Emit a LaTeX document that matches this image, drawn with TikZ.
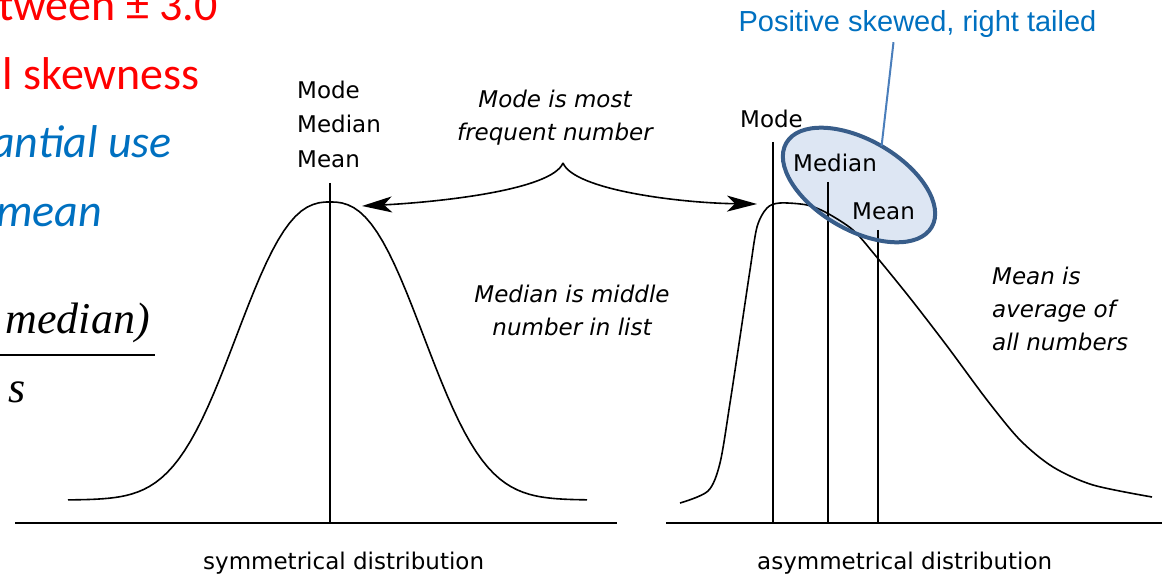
\documentclass[tikz,border=0pt]{standalone}
\usepackage{fontspec}
\usepackage{tikz}
\usetikzlibrary{shapes.geometric,arrows.meta,calc}
\newfontfamily\labelfont{DejaVu Sans}
\newfontfamily\slidefont{Carlito}
\newfontfamily\formulafont{Liberation Serif}
\newfontfamily\calloutfont{Liberation Sans}
\definecolor{slidered}{HTML}{FF0000}
\definecolor{slideblue}{HTML}{0070C0}
\definecolor{calloutcol}{HTML}{4A7EBB}
\definecolor{ringcol}{HTML}{385D8A}
\definecolor{ringfill}{HTML}{DDE6F3}

\begin{document}
\begin{tikzpicture}[x=1pt, y=-1pt,
  lbl/.style={inner sep=0pt, font=\labelfont\fontsize{23}{34.5}\selectfont},
  note/.style={inner sep=0pt, align=center, font=\labelfont\itshape\fontsize{23}{33}\selectfont},
  slide/.style={inner sep=0pt, anchor=base east, font=\slidefont\fontsize{46}{50}\selectfont},
  slideit/.style={slide, font=\slidefont\itshape\fontsize{46}{50}\selectfont},
  formula/.style={inner sep=0pt, font=\formulafont\itshape\fontsize{44}{48}\selectfont},
  curve/.style={line width=1.6pt, line join=round},
  stem/.style={line width=2pt},
  axis/.style={line width=2.5pt},
  pointer/.style={line width=1.6pt, -{Stealth[length=30pt, width=16pt, inset=8pt]}},
  ring/.style={ellipse, fill=ringfill, minimum width=168pt, minimum height=90pt,
               rotate=-30, inner sep=0pt},
  ringedge/.style={draw=ringcol, line width=4pt}
]
  \useasboundingbox (0,0) rectangle (1162,577);
  \clip (0,0) rectangle (1162,577);

  \node[slide, text=slidered] (range) at (218,21) {tween ± 3.0};
  \node[slide, text=slidered] (skewness) at (200,90) {l skewness};
  \node[slideit, text=slideblue] (usage) at (172,158) {antial use};
  \node[slideit, text=slideblue] (mean) at (102,227) {mean};
  \node[formula, anchor=base east] (numer) at (150,334) {median)};
  \node[formula, anchor=base] (denom) at (17.5,402) {s};
  \draw[line width=2pt] (-5,355) -- (155,355);

  \node[ring] (skew) at (859,185) {};

  \draw[axis] (15,523) -- (617,523);
  \draw[axis] (666,523) -- (1162,523);

  \draw[curve] plot[domain=68:587, samples=90]
    (\x, {500-298*exp(-pow((abs(\x-330)+0.01)/115,2.5))});
  \draw[curve] plot[smooth, tension=0.5] coordinates {(680,503) (708,491) (720,463) (730,403)
    (740,337) (750,270) (757,227) (767,208) (780,203) (807,205) (827,213) (853,230)
    (875,255) (910,298) (947,346) (987,400) (1020,440) (1053,467) (1093,485) (1152,497)};

  \draw[stem] (330,183) -- (330,523);
  \draw[stem] (773,142) -- (773,523);
  \draw[stem] (828,182) -- (828,523);
  \draw[stem] (878,230) -- (878,523);

  \node[lbl, anchor=west, align=left] (symlbl) at (297,124) {Mode\\Median\\Mean};
  \node[lbl, anchor=base west] (modelbl) at (740,128) {Mode};
  \node[lbl, anchor=base west] (medianlbl) at (793,172) {Median};
  \node[lbl, anchor=base west] (meanlbl) at (852,220) {Mean};

  \node[note] (modenote) at (555,117.5) {Mode is most\\frequent number};
  \node[note] (mediannote) at (572,310) {Median is middle\\number in list};
  \node[note, anchor=west, align=left] (meannote) at (992,309) {Mean is\\average of\\all numbers};

  \coordinate (brace) at (563,163);
  \coordinate (lefttip) at (362,206);
  \coordinate (righttip) at (757,204);
  \draw[pointer] (brace) .. controls (552,190) and (440,202) .. (lefttip);
  \draw[pointer] (brace) .. controls (574,190) and (680,203) .. (righttip);

  \node[lbl, anchor=base west] (symcap) at (203,569) {symmetrical distribution};
  \node[lbl, anchor=base west] (asymcap) at (757,569) {asymmetrical distribution};

  \draw[ringedge, rotate around={-30:(skew.center)}] (skew.center) ellipse [x radius=84, y radius=45];
  \node[inner sep=0pt, anchor=base, text=slideblue,
        font=\calloutfont\fontsize{29}{31}\selectfont] (skewlbl) at (917.5,32) {Positive skewed, right tailed};
  \draw[calloutcol, line width=2pt] ($(skewlbl.south)+(-24,4)$) -- (skew.north);
\end{tikzpicture}
\end{document}
